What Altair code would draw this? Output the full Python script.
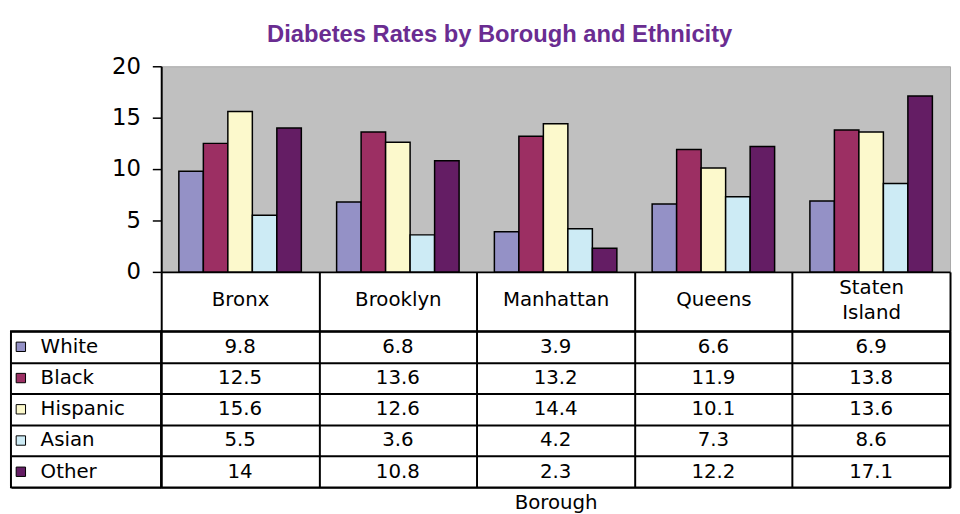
import altair as alt
import pandas as pd

boroughs = ["Bronx", "Brooklyn", "Manhattan", "Queens", "Staten Island"]
ethnicities = ["White", "Black", "Hispanic", "Asian", "Other"]
white = [9.8, 6.8, 3.9, 6.6, 6.9]
black = [12.5, 13.6, 13.2, 11.9, 13.8]
hispanic = [15.6, 12.6, 14.4, 10.1, 13.6]
asian = [5.5, 3.6, 4.2, 7.3, 8.6]
other = [14, 10.8, 2.3, 12.2, 17.1]
colors = ["#9491c6", "#9c2f63", "#fcf9cc", "#cdebf5", "#641d64"]
y_ticks = [0, 5, 10, 15, 20]

series = dict(zip(ethnicities, [white, black, hispanic, asian, other]))
rows = [{"Borough": b, "Ethnicity": e, "Rate": series[e][i]}
        for e in ethnicities for i, b in enumerate(boroughs)]
df = pd.DataFrame(rows)
legend_df = pd.DataFrame({"Ethnicity": ethnicities})

FONT = "DejaVu Sans"
FS = 20
color_scale = alt.Scale(domain=ethnicities, range=colors)
band = alt.Scale(paddingInner=0, paddingOuter=0)

bars = alt.Chart(df).mark_bar(stroke="black", strokeWidth=1.5).encode(
    x=alt.X("Borough:N", sort=boroughs, scale=band,
            axis=alt.Axis(title=None, orient="bottom", domainColor="black", domainWidth=2,
                          tickBand="extent", tickColor="black", tickWidth=2, tickSize=60,
                          labelPadding={"condition": {"test": "datum.value == 'Staten Island'",
                                                      "value": -44},
                                        "value": -32},
                          labelBaseline="middle", labelAngle=0,
                          labelFont=FONT, labelFontSize=FS, labelColor="black",
                          labelLineHeight=25,
                          labelExpr="datum.value == 'Staten Island' ? ['Staten', 'Island'] : datum.value")),
    xOffset=alt.XOffset("Ethnicity:N", sort=ethnicities,
                        scale=alt.Scale(paddingInner=0, paddingOuter=0.72)),
    y=alt.Y("Rate:Q", scale=alt.Scale(domain=[0, 20], nice=False),
            axis=alt.Axis(values=y_ticks, title=None, grid=False, domainColor="black",
                          domainWidth=2, tickColor="black", tickWidth=1.5, tickSize=9,
                          labelPadding=12, labelFont=FONT, labelFontSize=23, labelColor="black")),
    color=alt.Color("Ethnicity:N", scale=color_scale, legend=None),
).properties(width=798, height=208,
             view=alt.ViewBackground(fill="#c0c0c0", stroke="#a8a8a8", strokeWidth=1))

empty = alt.Chart(legend_df).mark_point(opacity=0).encode(
    x=alt.value(0), y=alt.value(0)
).properties(width=152, height=208, view=alt.ViewBackground(strokeOpacity=0))

row_axis = alt.Axis(title=None, labels=False, ticks=False, domain=False, grid=True,
                    gridColor="black", gridWidth=2, tickBand="extent")

lab_base = alt.Chart(legend_df).encode(
    y=alt.Y("Ethnicity:N", sort=ethnicities, scale=band, axis=row_axis)
)
swatch = lab_base.mark_square(size=90, stroke="black", strokeWidth=1, opacity=1).encode(
    x=alt.value(10),
    color=alt.Color("Ethnicity:N", scale=color_scale, legend=None),
)
names = lab_base.mark_text(align="left", font=FONT, fontSize=FS, color="black").encode(
    x=alt.value(30), text="Ethnicity:N"
)
labels = alt.layer(swatch, names).properties(
    width=152, height=158,
    view=alt.ViewBackground(fill="white", stroke="black", strokeWidth=2))

table = alt.Chart(df).mark_text(font=FONT, fontSize=FS, color="black").encode(
    x=alt.X("Borough:N", sort=boroughs, scale=band,
            axis=alt.Axis(title="Borough", titleFont=FONT, titleFontSize=FS, titleColor="black",
                          titleFontWeight="normal", titlePadding=5, labels=False, ticks=False,
                          domain=False, grid=True, gridColor="black", gridWidth=2,
                          tickBand="extent")),
    y=alt.Y("Ethnicity:N", sort=ethnicities, scale=band, axis=row_axis),
    text=alt.Text("Rate:Q"),
).properties(width=798, height=158,
             view=alt.ViewBackground(fill="white", stroke="black", strokeWidth=2))

chart = alt.concat(
    empty, bars, labels, table, columns=2,
    spacing=alt.RowColnumber(row=60, column=0), bounds="flush", align="each",
).properties(
    title=alt.TitleParams("Diabetes Rates by Borough and Ethnicity", font="Liberation Sans",
                          fontSize=24, fontWeight="bold", color="#6a2c91", anchor="middle",
                          offset=8, dx=20),
    padding={"left": 0, "top": 12, "right": 0, "bottom": 0},
    background="white",
)

chart.save("out.html", embed_options={"renderer": "svg", "actions": False})
